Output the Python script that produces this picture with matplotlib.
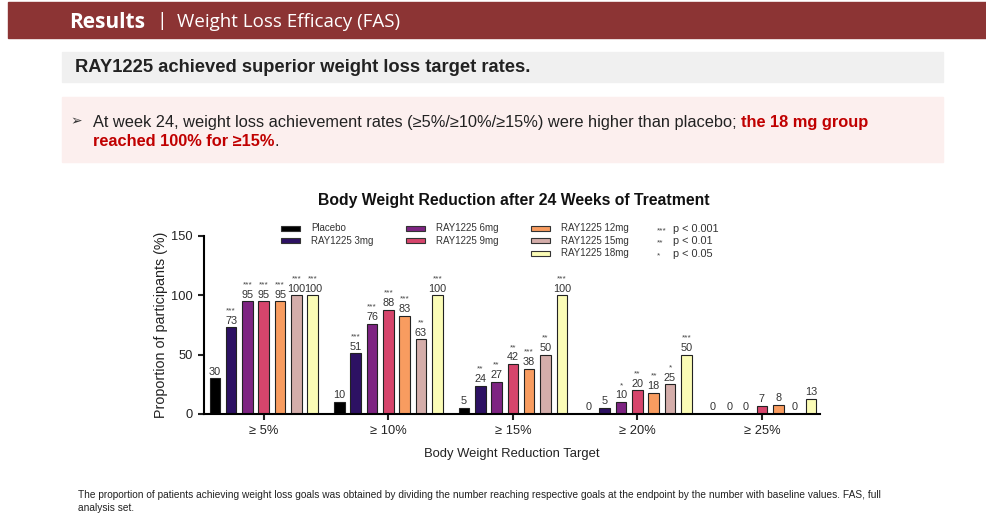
import matplotlib
matplotlib.use("Agg")
import matplotlib.pyplot as plt
from matplotlib.patches import Rectangle
import numpy as np

plt.rcParams['font.family'] = ['Liberation Sans', 'DejaVu Sans']

targets = ["≥ 5%", "≥ 10%", "≥ 15%", "≥ 20%", "≥ 25%"]
groups = ["Placebo", "RAY1225 3mg", "RAY1225 6mg", "RAY1225 9mg",
          "RAY1225 12mg", "RAY1225 15mg", "RAY1225 18mg"]
colors = ["#000000", "#2d1163", "#7e2482", "#d6456c", "#f89c60", "#d4adaa", "#fbfcb6"]

placebo = [30, 10, 5, 0, 0]
ray3 = [73, 51, 24, 5, 0]
ray6 = [95, 76, 27, 10, 0]
ray9 = [95, 88, 42, 20, 7]
ray12 = [95, 83, 38, 18, 8]
ray15 = [100, 63, 50, 25, 0]
ray18 = [100, 100, 100, 50, 13]
values = [placebo, ray3, ray6, ray9, ray12, ray15, ray18]

stars = [
    ["", "", "", "", ""],
    ["***", "***", "**", "", ""],
    ["***", "***", "**", "*", ""],
    ["***", "***", "**", "**", ""],
    ["***", "***", "***", "**", ""],
    ["***", "**", "**", "*", ""],
    ["***", "***", "***", "***", ""],
]

W, H = 987, 531
fig = plt.figure(figsize=(W / 100, H / 100), dpi=100)
bg = fig.add_axes([0, 0, 1, 1])
bg.set_xlim(0, W)
bg.set_ylim(H, 0)
bg.axis("off")

# header band
hfont = ["Open Sans", "DejaVu Sans"]
bg.add_patch(Rectangle((8, 2), W - 8, 36, color="#8c3434"))
bg.text(69, 22, "Results", color="white", fontsize=15, fontweight="bold", family=hfont, va="center")
bg.text(156, 21, "|", color="white", fontsize=14, family=hfont, va="center")
bg.text(177, 22, "Weight Loss Efficacy (FAS)", color="white", fontsize=13.5, family=hfont, va="center")

# subtitle box
bg.add_patch(Rectangle((62, 52), 881, 30, color="#f0f0f0"))
bg.text(75, 68, "RAY1225 achieved superior weight loss target rates.", fontsize=13.2,
        fontweight="bold", color="#222222", va="center")

# bullet box
bg.add_patch(Rectangle((62, 97), 881, 65, color="#fcefee"))
bg.text(70, 121, "➢", fontsize=10, color="#333333", va="center", family=["DejaVu Sans"])
red = "#c00000"
fs = 11.8
t1 = bg.text(93, 123, "At week 24, weight loss achievement rates (≥5%/≥10%/≥15%) were higher than placebo; ",
             fontsize=fs, color="#222222", va="center")
fig.canvas.draw()
bb = t1.get_window_extent(fig.canvas.get_renderer())
bg.text(bb.x1, (bb.y0 + bb.y1) / 2, "the 18 mg group", fontsize=fs, color=red,
        fontweight="bold", va="center", transform=None)
t3 = bg.text(93, 142, "reached 100% for ≥15%", fontsize=fs, color=red, fontweight="bold", va="center")
fig.canvas.draw()
bb3 = t3.get_window_extent(fig.canvas.get_renderer())
bg.text(bb3.x1, (bb3.y0 + bb3.y1) / 2, ".", fontsize=fs, color="#222222", va="center", transform=None)

# chart
ax = fig.add_axes([204 / W, 1 - 414 / H, (820 - 204) / W, (414 - 236) / H])
x = np.arange(len(targets))
pitch = 0.131
width = 0.085
for i, (g, vals) in enumerate(zip(groups, values)):
    pos = x + (i - 3) * pitch
    ax.bar(pos, vals, width, color=colors[i], edgecolor="#222222", linewidth=0.8, zorder=2)
    for p, v, s in zip(pos, vals, stars[i]):
        ax.annotate(str(v), (p, v), xytext=(0, 1.2), textcoords="offset points",
                    ha="center", va="bottom", fontsize=7.8, color="#333333")
        if s:
            ax.annotate(s, (p, v), xytext=(0, 9.5), textcoords="offset points",
                        ha="center", va="bottom", fontsize=6, color="#444444")

ax.set_xlim(-0.48, 4.466)
ax.set_ylim(0, 150)
ax.set_yticks([0, 50, 100, 150])
ax.set_xticks(x)
ax.set_xticklabels(targets)
ax.spines["top"].set_visible(False)
ax.spines["right"].set_visible(False)
ax.spines["left"].set_linewidth(1.5)
ax.spines["bottom"].set_linewidth(1.5)
ax.tick_params(axis="both", width=1.5, length=4.5, labelsize=9.3, colors="#222222")
ax.set_xlabel("Body Weight Reduction Target", fontsize=9.4, color="#222222", labelpad=8)
ax.set_ylabel("Proportion of participants (%)", fontsize=10.3, color="#222222")
ax.yaxis.set_label_coords(-0.058, 0.5)
ax.patch.set_alpha(0)

bg.text(514, 201, "Body Weight Reduction after 24 Weeks of Treatment", fontsize=11.3,
        fontweight="bold", ha="center", va="center", color="#111111")

# legend
leg_cols = [(281, [0, 1]), (406, [2, 3]), (531, [4, 5, 6])]
for lx, idxs in leg_cols:
    for row, gi in enumerate(idxs):
        ly = 228 + row * 12.5
        bg.add_patch(Rectangle((lx, ly - 2.5), 19, 5, facecolor=colors[gi],
                               edgecolor="#333333", linewidth=0.8))
        bg.text(lx + 30, ly, groups[gi], fontsize=7, va="center", color="#333333")
pvals = [("***", "p < 0.001"), ("**", "p < 0.01"), ("*", "p < 0.05")]
for row, (s, p) in enumerate(pvals):
    ly = 229 + row * 12.5
    bg.text(657, ly + 1.5, s, fontsize=6, va="center", color="#444444")
    bg.text(673, ly, p, fontsize=7.8, va="center", color="#333333")

# footnote
bg.text(78, 495, "The proportion of patients achieving weight loss goals was obtained by dividing the number "
        "reaching respective goals at the endpoint by the number with baseline values. FAS, full",
        fontsize=7.3, va="center", color="#222222")
bg.text(78, 508, "analysis set.", fontsize=7.3, va="center", color="#222222")

fig.savefig("out.png", dpi=100)
